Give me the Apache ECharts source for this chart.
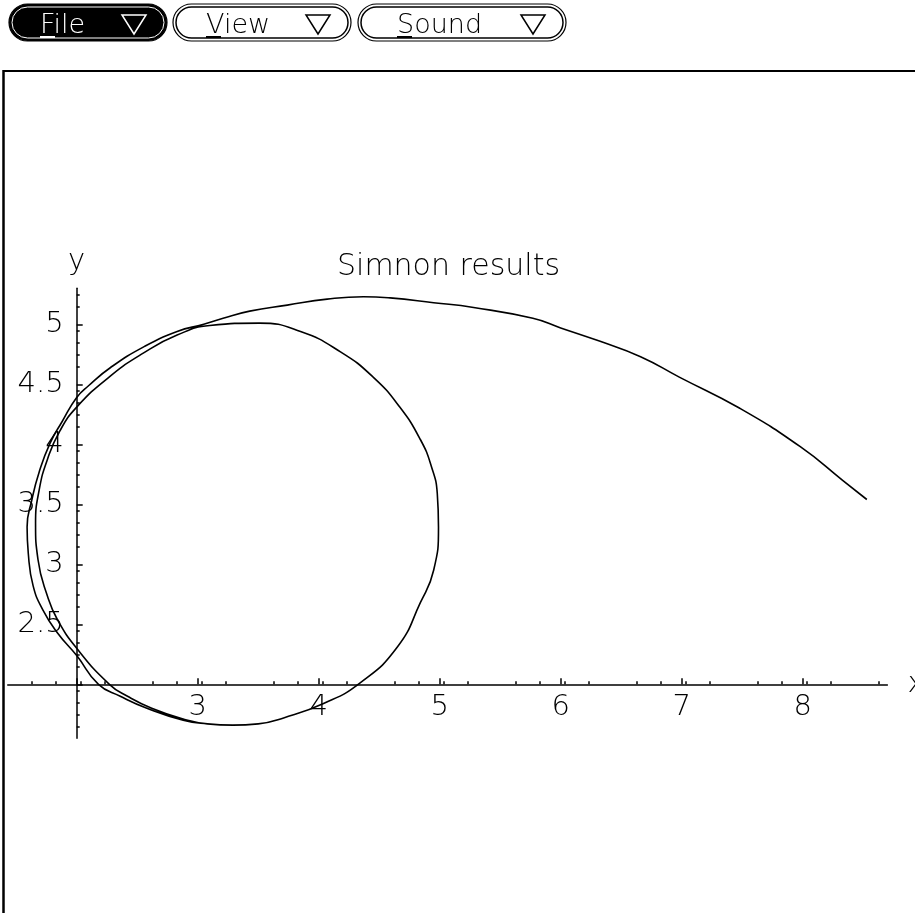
<!DOCTYPE html>
<html>
<head>
<meta charset="utf-8">
<script src="https://cdn.jsdelivr.net/npm/echarts@6/dist/echarts.min.js"></script>
<style>
  html, body { margin: 0; padding: 0; background: #ffffff; }
  #chart { width: 915px; height: 913px; }
</style>
</head>
<body>
<div id="chart"></div>
<script>
// Simulated state trajectory (x, y): incoming arm, then two laps around the limit cycle
const trajX = [
  8.53, 8.33, 7.98, 7.48, 6.98, 6.66, 6.32, 6.00, 5.77, 5.28, 4.95, 4.59, 4.37, 4.07, 3.74, 3.43, 3.21, 3.05,
  2.83, 2.55, 2.28, 2.10, 2.00, 1.88, 1.78, 1.69, 1.63, 1.59, 1.60, 1.64, 1.72, 1.84, 2.00, 2.18, 2.36, 2.58,
  2.88, 3.08, 3.29, 3.50, 3.71, 4.04, 4.34, 4.65, 4.84, 4.95, 4.99, 4.98, 4.93, 4.84, 4.67, 4.45, 4.18, 3.85,
  3.51, 3.10,
  2.83, 2.55, 2.28, 2.00, 1.86, 1.76, 1.69, 1.66, 1.68, 1.76, 1.84, 2.00, 2.27, 2.42, 2.62, 2.88, 3.08, 3.29,
  3.50, 3.71, 4.04, 4.34, 4.65, 4.84, 4.95, 4.99, 4.98
];
const trajY = [
  3.54, 3.70, 3.98, 4.30, 4.56, 4.73, 4.86, 4.97, 5.05, 5.14, 5.18, 5.22, 5.23, 5.21, 5.16, 5.11, 5.05, 5.00,
  4.94, 4.81, 4.64, 4.49, 4.39, 4.19, 4.01, 3.77, 3.54, 3.31, 3.09, 2.82, 2.62, 2.43, 2.24, 2.00, 1.90, 1.80,
  1.70, 1.67, 1.66, 1.67, 1.72, 1.84, 2.01, 2.31, 2.68, 2.95, 3.31, 3.59, 3.82, 4.04, 4.31, 4.56, 4.77, 4.94,
  5.01, 4.99,
  4.91, 4.76, 4.57, 4.31, 4.11, 3.88, 3.62, 3.34, 3.04, 2.73, 2.54, 2.30, 2.00, 1.90, 1.80, 1.71, 1.67, 1.66,
  1.67, 1.72, 1.84, 2.01, 2.31, 2.68, 2.95, 3.31, 3.59
];

// Axis ticks and labels
const xTickValues = [2, 3, 4, 5, 6, 7, 8];
const xLabelValues = [3, 4, 5, 6, 7, 8];
const yTickValues = [2, 2.5, 3, 3.5, 4, 4.5, 5];
const yLabelValues = [2.5, 3, 3.5, 4, 4.5, 5];

// Menu bar entries
const menuItems = ['File', 'View', 'Sound'];

// Plot range and where the axes cross
const xRange = [1.43, 8.7];
const yRange = [1.55, 5.3];
const axisCross = [2, 2];

// Layout: pixel position of the axis crossing and scale per unit
const originPx = [76.7, 684.3];
const pxPerX = 121;
const pxPerY = 120;

const gridLeft = originPx[0] - (axisCross[0] - xRange[0]) * pxPerX;
const gridTop = originPx[1] - (yRange[1] - axisCross[1]) * pxPerY;
const gridWidth = (xRange[1] - xRange[0]) * pxPerX;
const gridHeight = (yRange[1] - yRange[0]) * pxPerY;

const FONT = 'DejaVu Sans';
const INK = '#000000';

const points = trajX.map((x, i) => [x, trajY[i]]);

// Window chrome: menu buttons, frame lines
const buttonBoxes = [
  { x: 9, w: 158, dark: true, pad: 31 },
  { x: 173, w: 178, dark: false, pad: 33 },
  { x: 358, w: 208, dark: false, pad: 39 }
];
const chrome = [];
const btnTop = 4, btnH = 37;
menuItems.forEach((label, i) => {
  const b = buttonBoxes[i];
  const fg = b.dark ? '#ffffff' : INK;
  chrome.push({
    type: 'rect',
    shape: { x: b.x, y: btnTop, width: b.w, height: btnH, r: btnH / 2 },
    style: { fill: b.dark ? INK : '#ffffff', stroke: INK, lineWidth: 1.2 }
  });
  chrome.push({
    type: 'rect',
    shape: { x: b.x + 3, y: btnTop + 3, width: b.w - 6, height: btnH - 6, r: (btnH - 6) / 2 },
    style: { fill: 'none', stroke: b.dark ? '#ffffff' : INK, lineWidth: b.dark ? 1 : 1.5 }
  });
  const tx = b.x + b.pad;
  chrome.push({
    type: 'text',
    style: {
      text: label, x: tx, y: btnTop + 22,
      fill: fg, fontSize: 27, fontFamily: FONT, fontWeight: 200,
      verticalAlign: 'middle', align: 'left'
    }
  });
  // mnemonic underline below the first letter
  chrome.push({
    type: 'line',
    shape: { x1: tx, y1: btnTop + btnH - 4, x2: tx + 15, y2: btnTop + btnH - 4 },
    style: { stroke: fg, lineWidth: 2 }
  });
  // drop-down triangle
  const rx = b.x + b.w - 45;
  chrome.push({
    type: 'polygon',
    shape: { points: [[rx, btnTop + 11], [rx + 24, btnTop + 11], [rx + 12, btnTop + 30]] },
    style: { fill: 'none', stroke: fg, lineWidth: 1.5 }
  });
});
chrome.push({
  type: 'line',
  shape: { x1: 3, y1: 71, x2: 915, y2: 71 },
  style: { stroke: INK, lineWidth: 2 }
});
chrome.push({
  type: 'line',
  shape: { x1: 3.5, y1: 70, x2: 3.5, y2: 913 },
  style: { stroke: INK, lineWidth: 2.5 }
});

const labelStyle = { color: INK, fontFamily: FONT, fontSize: 29, fontWeight: 200 };

const chart = echarts.init(document.getElementById('chart'), null, { renderer: 'canvas' });
chart.setOption({
  animation: false,
  backgroundColor: '#ffffff',
  title: {
    text: 'Simnon results',
    left: 332,
    top: 247,
    textStyle: { color: INK, fontFamily: FONT, fontSize: 30, fontWeight: 200 }
  },
  graphic: chrome,
  grid: {
    left: gridLeft,
    top: gridTop,
    width: gridWidth,
    height: gridHeight,
    containLabel: false,
    outerBoundsMode: 'none'
  },
  xAxis: {
    type: 'value',
    min: xRange[0],
    max: xRange[1],
    interval: 1,
    position: 'bottom',
    offset: -(axisCross[1] - yRange[0]) * pxPerY,
    name: 'x',
    nameLocation: 'end',
    nameGap: 20,
    nameTextStyle: Object.assign({}, labelStyle, { verticalAlign: 'middle' }),
    axisLine: { show: true, onZero: false, lineStyle: { color: INK, width: 1.5 } },
    axisTick: { show: true, inside: true, length: 6, customValues: xTickValues, lineStyle: { color: INK, width: 1.5 } },
    minorTick: { show: true, splitNumber: 5, length: 3, lineStyle: { color: INK, width: 1.5 } },
    axisLabel: Object.assign({ customValues: xLabelValues, margin: 9 }, labelStyle),
    splitLine: { show: false },
    minorSplitLine: { show: false }
  },
  yAxis: {
    type: 'value',
    min: yRange[0],
    max: yRange[1],
    interval: 0.5,
    position: 'left',
    offset: -(axisCross[0] - xRange[0]) * pxPerX,
    name: 'y',
    nameLocation: 'end',
    nameGap: 12,
    nameTextStyle: Object.assign({}, labelStyle, { align: 'center' }),
    axisLine: { show: true, onZero: false, lineStyle: { color: INK, width: 1.5 } },
    axisTick: { show: true, inside: true, length: 6, customValues: yTickValues, lineStyle: { color: INK, width: 1.5 } },
    minorTick: { show: true, splitNumber: 5, length: 3, lineStyle: { color: INK, width: 1.5 } },
    axisLabel: Object.assign({ customValues: yLabelValues, margin: 13 }, labelStyle),
    splitLine: { show: false },
    minorSplitLine: { show: false }
  },
  series: [{
    type: 'line',
    data: points,
    showSymbol: false,
    smooth: 0.5,
    clip: false,
    lineStyle: { color: INK, width: 1.6 },
    emphasis: { disabled: true }
  }]
});
</script>
</body>
</html>
